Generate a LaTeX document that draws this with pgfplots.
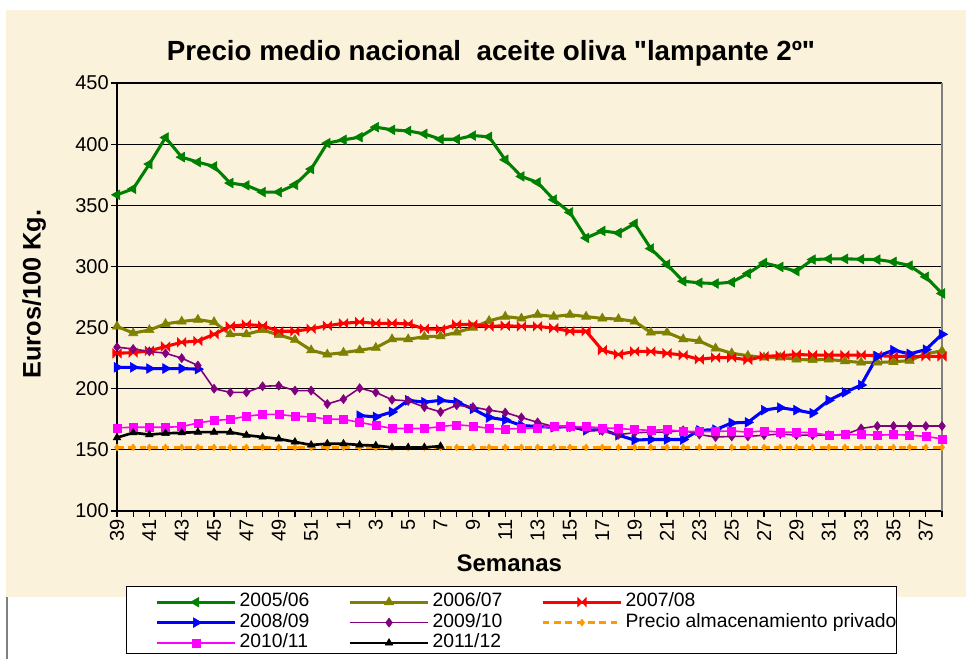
\documentclass[border=0pt]{standalone}
\usepackage{fontspec}
\setmainfont{Liberation Sans}[Ligatures=TeXOff]
\usepackage{pgfplots}
\usepackage{pgfplotstable}
\pgfplotsset{compat=1.18}
\definecolor{cream}{RGB}{251,242,220}
\definecolor{cgreen}{RGB}{0,128,0}
\definecolor{colive}{RGB}{128,128,0}
\definecolor{cred}{RGB}{255,0,0}
\definecolor{cblue}{RGB}{0,0,255}
\definecolor{cpurple}{RGB}{128,0,128}
\definecolor{corange}{RGB}{255,153,0}
\definecolor{cmagenta}{RGB}{255,0,255}
\pgfdeclareplotmark{bowtie}{%
  \pgfpathmoveto{\pgfqpoint{-\pgfplotmarksize}{\pgfplotmarksize}}%
  \pgfpathlineto{\pgfqpoint{\pgfplotmarksize}{-\pgfplotmarksize}}%
  \pgfpathlineto{\pgfqpoint{\pgfplotmarksize}{\pgfplotmarksize}}%
  \pgfpathlineto{\pgfqpoint{-\pgfplotmarksize}{-\pgfplotmarksize}}%
  \pgfpathclose
  \pgfusepathqfillstroke}

\pgfplotstableread[header=false,row sep=\\]{
358.6\\363.5\\383.7\\405.4\\389.4\\385.3\\381.8\\368.2\\366.3\\360.8\\
360.8\\366.8\\379.6\\400.8\\403.5\\405.7\\413.9\\411.7\\410.8\\408.4\\
404\\404\\407\\406\\387.2\\373.6\\368.7\\354.6\\344.2\\323.3\\
329\\327.4\\335\\314.6\\301.6\\287.9\\286.6\\286\\287.1\\294.2\\
302.9\\299.6\\296.1\\305.6\\306.2\\306.2\\305.9\\305.6\\303.7\\300.7\\
291.5\\277.9\\
}\tgreen
\pgfplotstableread[header=false,row sep=\\]{
251\\245.5\\248\\253\\255\\256.5\\254.5\\244.5\\244.5\\248\\
244\\240\\231.5\\228\\229.5\\231.5\\233.5\\240.5\\240.5\\242.5\\
243\\246\\250\\255.5\\259\\257.5\\260.5\\259\\260.5\\259\\
257.5\\257\\255\\246\\246\\240.5\\239\\233\\229\\227\\
225.5\\225.5\\224\\223.5\\224\\222.5\\221.5\\221.5\\222\\223\\
228.5\\231\\
}\tolive
\pgfplotstableread[header=false,row sep=\\]{
229\\229.5\\231\\234.5\\238\\239\\244.5\\251\\252.5\\251.5\\
247\\247\\249\\251.5\\253.5\\254.5\\253.5\\253.5\\253\\249\\
248.5\\252.5\\252.5\\251\\251.5\\251\\251\\249.5\\247\\247\\
231.5\\228\\230.5\\230.5\\229\\227.5\\224\\225.5\\225.5\\223.5\\
226.5\\227\\228\\227.5\\227.5\\227.5\\227.5\\227\\226.5\\226.5\\
226.5\\226.5\\
}\tred
\pgfplotstableread[header=false,row sep=\\]{
217.5\\217.5\\216.5\\216.5\\216.5\\216\\nan\\nan\\nan\\nan\\
nan\\nan\\nan\\nan\\nan\\178\\177\\181\\190.5\\189\\
190.5\\189\\183.5\\176.5\\174.5\\170\\169\\168.5\\169\\166\\
166.5\\162\\158\\158.5\\158.5\\158.5\\166\\166.5\\172\\172.5\\
182.5\\184.5\\182.5\\180\\190.5\\197\\203\\226.5\\231.5\\228.5\\
232\\244.5\\
}\tblue
\pgfplotstableread[header=false,row sep=\\]{
234\\232.5\\230.5\\229\\225\\219\\200\\197\\197\\202\\
202.5\\198.5\\198.5\\187.5\\191.5\\200.5\\197\\191\\190\\185\\
181\\186.5\\185\\182.5\\180.5\\176.5\\172.5\\169\\168.5\\167.5\\
165.5\\162.5\\164\\164.5\\164.5\\166\\162.5\\160.5\\161\\161\\
162\\163\\162\\162\\162\\162.5\\167.5\\169.5\\169.5\\169.5\\
169.5\\169.5\\
}\tpurple
\pgfplotstableread[header=false,row sep=\\]{
152\\152\\152\\152\\152\\152\\152\\152\\152\\152\\
152\\152\\152\\152\\152\\152\\152\\152\\152\\152\\
152\\152\\152\\152\\152\\152\\152\\152\\152\\152\\
152\\152\\152\\152\\152\\152\\152\\152\\152\\152\\
152\\152\\152\\152\\152\\152\\152\\152\\152\\152\\
152\\152\\
}\torange
\pgfplotstableread[header=false,row sep=\\]{
168\\168.5\\168.5\\168.5\\169\\172\\174\\175\\177.5\\179\\
179\\177.5\\177\\175\\175\\172.5\\170\\167.5\\167.5\\167.5\\
169\\170.5\\169.5\\167.5\\167\\167.5\\168\\169.5\\169\\169\\
168\\167.5\\166.5\\166\\166.5\\165\\165\\165\\165.5\\164.5\\
165.5\\164.5\\164.5\\164\\162\\162.5\\162.5\\162\\162.5\\162\\
161\\159\\
}\tmagenta
\pgfplotstableread[header=false,row sep=\\]{
160\\164\\162.5\\163.5\\164\\164.5\\164.5\\164.5\\162\\160.5\\
159\\156.5\\154\\155\\155\\154\\153.5\\152\\152\\152\\
153\\
}\tblack

\begin{document}
\begin{tikzpicture}
\fill[white] (0pt,0pt) rectangle (724.5pt,-494.25pt);
\fill[cream] (4.5pt,-7.5pt) rectangle (724.5pt,-447.75pt);
\draw[gray,line width=1pt] (5.25pt,-447.75pt) -- (5.25pt,-494.25pt);
\draw[black,line width=0.75pt,fill=white] (94.5pt,-439.5pt) rectangle (672pt,-489.75pt);
\node[anchor=base,font=\fontsize{20.8}{24}\selectfont\bfseries] at (368.25pt,-45.75pt) {Precio medio nacional\ \ aceite oliva "lampante 2º"};
\node[anchor=base,rotate=90,font=\fontsize{19}{23}\selectfont\bfseries] at (30.5pt,-220.5pt) {Euros/100 Kg.};
\node[anchor=base,font=\fontsize{18}{22}\selectfont\bfseries] at (382pt,-428.25pt) {Semanas};
\begin{axis}[
  at={(87.75pt,-383.25pt)}, anchor=south west,
  scale only axis, width=618.75pt, height=321pt,
  xmin=0, xmax=51, ymin=100, ymax=450,
  clip=false,
  axis x line*=bottom, axis y line*=left,
  axis line style={black,line width=1.1pt},
  tick align=outside,
  major tick length=4.5pt,
  tick style={black,line width=0.9pt},
  xtick={0,...,51},
  xticklabels={39,,41,,43,,45,,47,,49,,51,,1,,3,,5,,7,,9,,11,,13,,15,,17,,19,,21,,23,,25,,27,,29,,31,,33,,35,,37,},
  xticklabel style={rotate=90,anchor=east,inner sep=1.5pt},
  ytick={100,150,...,450},
  yticklabel style={inner sep=1.5pt},
  ymajorgrids,
  grid style={black,line width=0.8pt},
  ticklabel style={font=\fontsize{15}{17}\selectfont},
  /pgf/number format/assume math mode=true,
  unbounded coords=jump,
  legend columns=3,
  legend cell align=left,
  legend style={at={(0.046,-0.1886)},anchor=north west,draw=none,fill=none,inner sep=0pt,
    font=\fontsize{14.5}{16}\selectfont,
    nodes={inner xsep=2pt,inner ysep=0pt,text height=11pt,text depth=4.3pt},
    /tikz/every even column/.append style={column sep=27pt}},
  legend image code/.code={\draw[mark repeat=2,mark phase=2] plot coordinates {(0pt,0pt) (29.5pt,0pt) (59pt,0pt)};},
]
\addplot[cgreen,line width=2.3pt,mark=triangle*,mark size=4.2pt,mark options={rotate=90,solid,line width=0.4pt}] table[x expr=\coordindex,y index=0]{\tgreen};
\addlegendentry{2005/06}
\addplot[colive,line width=2.3pt,mark=triangle*,mark size=4pt,mark options={solid,line width=0.4pt}] table[x expr=\coordindex,y index=0]{\tolive};
\addlegendentry{2006/07}
\addplot[cred,line width=2.3pt,mark=bowtie,mark size=3pt,mark options={solid,line width=0.8pt}] table[x expr=\coordindex,y index=0]{\tred};
\addlegendentry{2007/08}
\addplot[cblue,line width=2.3pt,mark=triangle*,mark size=4.2pt,mark options={rotate=-90,solid,line width=0.4pt}] table[x expr=\coordindex,y index=0]{\tblue};
\addlegendentry{2008/09}
\addplot[cpurple,line width=1.2pt,mark=diamond*,mark size=3.4pt,mark options={solid,line width=0.4pt}] table[x expr=\coordindex,y index=0]{\tpurple};
\addlegendentry{2009/10}
\addplot[corange,line width=1.7pt,dash pattern=on 5pt off 3.5pt,mark=diamond*,mark size=2.6pt,mark options={solid,line width=0.4pt}] table[x expr=\coordindex,y index=0]{\torange};
\addlegendentry{Precio almacenamiento privado}
\addplot[cmagenta,line width=1.2pt,mark=square*,mark size=3pt,mark options={solid,line width=0.4pt}] table[x expr=\coordindex,y index=0]{\tmagenta};
\addlegendentry{2010/11}
\addplot[black,line width=2pt,mark=triangle*,mark size=3.3pt,mark options={solid,line width=0.4pt}] table[x expr=\coordindex,y index=0]{\tblack};
\addlegendentry{2011/12}
\draw[gray,line width=0.9pt] (axis cs:51,100) -- (axis cs:51,450);
\end{axis}
\end{tikzpicture}
\end{document}
